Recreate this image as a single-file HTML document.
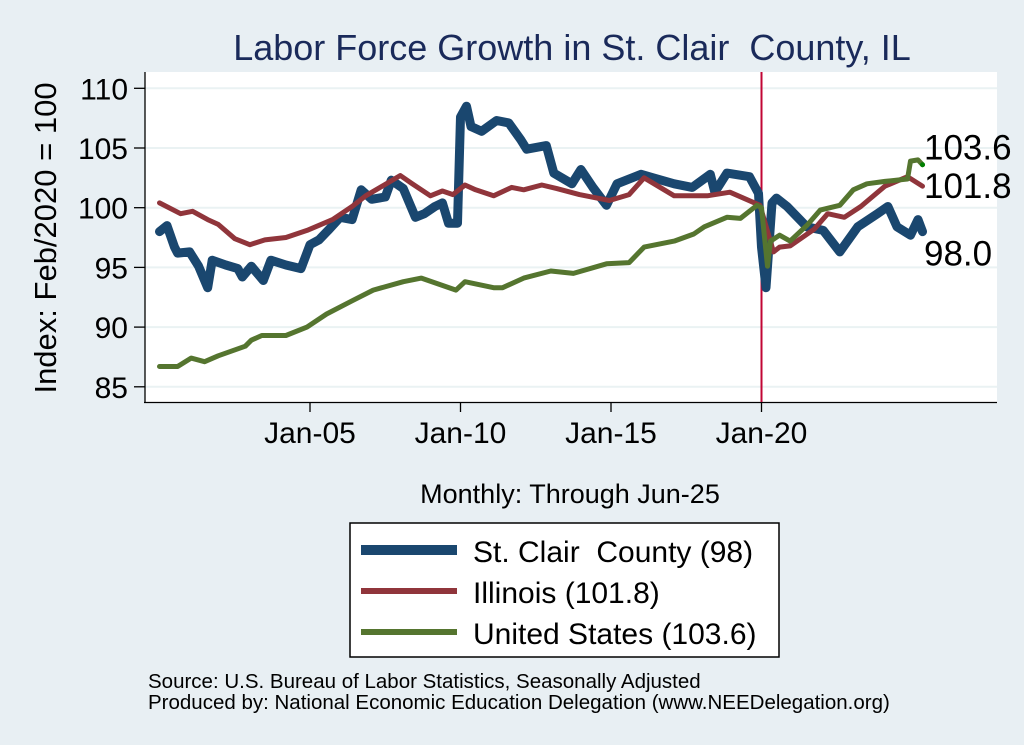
<!DOCTYPE html>
<html><head><meta charset="utf-8"><style>
body{margin:0;background:#e8eff3;}
svg{display:block;font-family:"Liberation Sans",Arial,sans-serif;}
</style></head><body>
<svg id="chart" width="1024" height="745" viewBox="0 0 1024 745" xml:space="preserve">
<rect x="0" y="0" width="1024" height="745" fill="#e8eff3"/>
<rect x="145" y="72" width="852" height="330" fill="#ffffff"/>
<text x="572" y="60" text-anchor="middle" font-size="36" fill="#1a2a5a">Labor Force Growth in St. Clair&#160; County, IL</text>
<text transform="translate(56,238) rotate(-90)" text-anchor="middle" font-size="31" fill="#000">Index: Feb/2020 = 100</text>
<text x="570" y="503" text-anchor="middle" font-size="27" fill="#000">Monthly: Through Jun-25</text>
<g id="grid"></g><g id="axes"></g><g id="series"></g><g id="labels"></g>
<g>
<rect x="350" y="523" width="429" height="134" fill="#fff" stroke="#000" stroke-width="1.5"/>
<line x1="361" y1="550" x2="457" y2="550" stroke="#1a476f" stroke-width="10"/>
<text x="473" y="562" font-size="30">St. Clair&#160; County (98)</text>
<line x1="361" y1="591" x2="457" y2="591" stroke="#90353b" stroke-width="6"/>
<text x="473" y="603" font-size="30">Illinois (101.8)</text>
<line x1="361" y1="632" x2="457" y2="632" stroke="#55752f" stroke-width="6"/>
<text x="473" y="644" font-size="30">United States (103.6)</text>
</g>
<text x="148" y="688" font-size="20.5">Source: U.S. Bureau of Labor Statistics, Seasonally Adjusted</text>
<text x="148" y="709" font-size="20.5">Produced by: National Economic Education Delegation (www.NEEDelegation.org)</text>
</svg>
<script>
const yTicks=[85,90,95,100,105,110];
const xTickYears=[2005,2010,2015,2020];
const xTickLabels=["Jan-05","Jan-10","Jan-15","Jan-20"];
const stclairDates=[2000.0,2000.25,2000.5,2000.6,2001.0,2001.3,2001.6,2001.75,2002.2,2002.6,2002.75,2003.05,2003.45,2003.7,2004.2,2004.7,2005.0,2005.3,2005.6,2006.0,2006.4,2006.7,2007.05,2007.5,2007.7,2008.1,2008.5,2008.8,2009.15,2009.4,2009.6,2009.9,2010.0,2010.2,2010.35,2010.7,2011.2,2011.6,2012.0,2012.2,2012.85,2013.1,2013.7,2014.0,2014.4,2014.85,2015.2,2016.0,2016.4,2017.1,2017.7,2018.3,2018.45,2018.85,2019.6,2019.9,2020.0,2020.15,2020.35,2020.5,2020.85,2021.5,2022.05,2022.6,2023.2,2023.85,2024.2,2024.5,2024.95,2025.2,2025.35];
const stclairValues=[98.0,98.5,96.7,96.2,96.3,95.1,93.3,95.6,95.2,94.9,94.2,95.1,93.9,95.6,95.2,94.9,96.9,97.3,98.1,99.2,99.0,101.5,100.7,100.9,102.3,101.6,99.2,99.5,100.1,100.4,98.7,98.7,107.6,108.5,106.8,106.4,107.3,107.1,105.7,104.9,105.2,102.9,102.0,103.2,101.7,100.2,102.0,102.8,102.5,102.0,101.7,102.8,101.3,102.9,102.6,101.2,96.7,93.3,100.4,100.8,100.1,98.4,98.1,96.3,98.4,99.5,100.1,98.4,97.7,99.0,98.0];
const illinoisDates=[2000.0,2000.7,2001.1,2001.6,2001.95,2002.5,2003.0,2003.5,2004.2,2004.9,2005.75,2006.4,2006.85,2007.4,2008.0,2008.4,2009.0,2009.4,2009.75,2010.15,2010.5,2011.1,2011.7,2012.1,2012.7,2013.2,2013.95,2014.95,2015.6,2016.1,2017.1,2018.2,2018.95,2019.95,2020.4,2020.6,2020.95,2021.75,2022.2,2022.75,2023.3,2024.1,2024.85,2025.35];
const illinoisValues=[100.4,99.5,99.7,99.0,98.6,97.4,96.9,97.3,97.5,98.1,99.0,100.1,101.0,101.8,102.7,102.0,101.0,101.4,101.1,101.9,101.5,101.0,101.7,101.5,101.9,101.6,101.1,100.6,101.1,102.5,101.0,101.0,101.3,100.2,96.3,96.7,96.8,98.2,99.5,99.2,100.1,101.8,102.6,101.8];
const usDates=[2000.0,2000.6,2001.05,2001.5,2001.95,2002.85,2003.05,2003.4,2004.2,2004.9,2005.55,2006.4,2007.1,2008.1,2008.7,2009.85,2010.15,2011.1,2011.4,2012.1,2013.0,2013.75,2014.85,2015.6,2016.1,2017.1,2017.75,2018.1,2018.85,2019.3,2019.85,2020.0,2020.2,2020.3,2020.6,2020.95,2021.5,2021.95,2022.6,2023.05,2023.5,2024.1,2024.85,2024.95,2025.2,2025.35];
const usValues=[86.7,86.7,87.4,87.1,87.6,88.4,88.9,89.3,89.3,90.0,91.1,92.2,93.1,93.8,94.1,93.1,93.8,93.3,93.3,94.1,94.7,94.5,95.3,95.4,96.7,97.2,97.8,98.4,99.2,99.1,100.2,100.0,95.1,97.2,97.7,97.2,98.5,99.8,100.2,101.5,102.0,102.2,102.4,103.9,104.0,103.6];
const endLabels=["103.6","101.8","98.0"];

const NS="http://www.w3.org/2000/svg";
function xs(t){return 310+(t-2005)*30.1;}
function ys(v){return 207.7-(v-100)*11.94;}
function mk(tag,attrs,parent){const e=document.createElementNS(NS,tag);for(const k in attrs)e.setAttribute(k,attrs[k]);parent.appendChild(e);return e;}
const grid=document.getElementById('grid'),axes=document.getElementById('axes'),series=document.getElementById('series'),labels=document.getElementById('labels');
yTicks.forEach(v=>{
 const g=mk('line',{x1:145,x2:997,y1:ys(v),y2:ys(v),stroke:'#eaf2f3','stroke-width':2},grid);
 
 
 const t=mk('line',{x1:134,x2:145,y1:ys(v),y2:ys(v),stroke:'#000','stroke-width':1.3},axes);
 
 
 const l=mk('text',{x:128,y:ys(v)+11,'text-anchor':'end','font-size':30},axes);
 l.textContent=v;
 
 
});
const yax=mk('line',{x1:145,x2:145,y1:72,y2:403,stroke:'#000','stroke-width':1.3},axes);


const xax=mk('line',{x1:144,x2:997,y1:402.5,y2:402.5,stroke:'#000','stroke-width':1.3},axes);


xTickYears.forEach((yr,i)=>{
 const t=mk('line',{x1:xs(yr),x2:xs(yr),y1:402,y2:412,stroke:'#000','stroke-width':1.3},axes);
 
 
 const l=mk('text',{x:xs(yr),y:443,'text-anchor':'middle','font-size':30},axes);
 l.textContent=xTickLabels[i];
 
 
});
const vl=mk('line',{x1:xs(2020),x2:xs(2020),y1:72,y2:402,stroke:'#c10534','stroke-width':2},series);


function line(d,v,color,w,name){
 const pts=d.map((t,i)=>xs(t).toFixed(1)+','+ys(v[i]).toFixed(1)).join(' ');
 const p=mk('polyline',{points:pts,fill:'none',stroke:color,'stroke-width':w,'stroke-linejoin':'round','stroke-linecap':'round'},series);
 
 
}
line(stclairDates,stclairValues,'#1a476f',9,'st-clair-line');
line(illinoisDates,illinoisValues,'#90353b',5,'illinois-line');
line(usDates,usValues,'#55752f',5,'us-line');
const dot=mk('circle',{cx:xs(usDates[usDates.length-1]),cy:ys(usValues[usValues.length-1]),r:2.5,fill:'#008000'},series);


const endVals=[usValues[usValues.length-1],illinoisValues[illinoisValues.length-1],stclairValues[stclairValues.length-1]];
const offs=[-5,12,34];
endLabels.forEach((s,i)=>{
 const l=mk('text',{x:924,y:ys(endVals[i])+offs[i],'font-size':35},labels);
 l.textContent=s;
 
 
});
</script>
</body></html>
